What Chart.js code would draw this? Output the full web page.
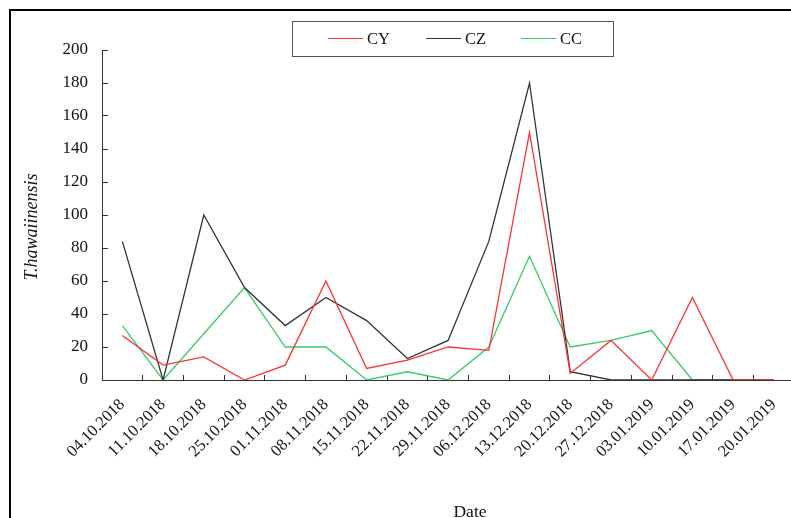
<!DOCTYPE html>
<html>
<head>
<meta charset="utf-8">
<script src="https://cdn.jsdelivr.net/npm/chart.js@4/dist/chart.umd.min.js"></script>
<style>
  html, body { margin: 0; padding: 0; background: #fff; overflow: hidden; width: 791px; height: 518px; }
  #wrap { position: relative; width: 791px; height: 518px; overflow: hidden; }
  #c { position: absolute; left: 0; top: 0; }
  #frame { position: absolute; left: 9px; top: 9px; width: 900px; height: 700px; border-left: 2.5px solid #000; border-top: 2.5px solid #000; box-sizing: border-box; }
  #legend { position: absolute; left: 292px; top: 21px; width: 322px; height: 36px; border: 1px solid #555; box-sizing: border-box; font-family: "Liberation Serif", "Times New Roman", serif; font-size: 16.5px; color: #111; }
  .sw { position: absolute; top: 16px; width: 35px; height: 0; border-top: 1.2px solid; }
  .lb { position: absolute; top: 7px; line-height: 20px; }
</style>
</head>
<body>
<div id="wrap">
  <canvas id="c" width="808" height="518"></canvas>
  <div id="frame"></div>
  <div id="legend"></div>
</div>
<script>
const categories = ["04.10.2018","11.10.2018","18.10.2018","25.10.2018","01.11.2018","08.11.2018","15.11.2018","22.11.2018","29.11.2018","06.12.2018","13.12.2018","20.12.2018","27.12.2018","03.01.2019","10.01.2019","17.01.2019","20.01.2019"];
const cyValues = [27, 9, 14, 0, 9, 60, 7, 12, 20, 18, 150, 4, 24, 0, 50, 0, 0];
const czValues = [84, 0, 100, 56, 33, 50, 36, 13, 24, 84, 180, 5, 0, 0, 0, 0, 0];
const ccValues = [33, 0, 28, 56, 20, 20, 0, 5, 0, 20, 75, 20, 24, 30, 0, 0, 0];
const seriesNames = ["CY", "CZ", "CC"];
const seriesColors = ["#ff3030", "#333333", "#33cc66"];
const yTickValues = [0, 20, 40, 60, 80, 100, 120, 140, 160, 180, 200];
const xTitle = "Date";
const yTitle = "T.hawaiinensis";

// HTML legend
const legendEl = document.getElementById('legend');
const swLeft = [35, 133, 228];
seriesNames.forEach((n, i) => {
  const s = document.createElement('div');
  s.className = 'sw';
  s.style.left = swLeft[i] + 'px';
  s.style.borderTopColor = seriesColors[i];
  legendEl.appendChild(s);
  const t = document.createElement('div');
  t.className = 'lb';
  t.style.left = (swLeft[i] + 39) + 'px';
  t.textContent = n;
  legendEl.appendChild(t);
});

const axisTitles = {
  id: 'axisTitles',
  afterDraw(chart) {
    const ctx = chart.ctx;
    ctx.save();
    ctx.fillStyle = '#111';
    ctx.font = 'italic 18px "Liberation Serif"';
    ctx.textAlign = 'center';
    ctx.textBaseline = 'middle';
    ctx.translate(32, 227);
    ctx.rotate(-Math.PI / 2);
    ctx.fillText(yTitle, 0, 0);
    ctx.restore();
    ctx.save();
    ctx.fillStyle = '#111';
    ctx.font = '17.5px "Liberation Serif"';
    ctx.textAlign = 'center';
    ctx.textBaseline = 'alphabetic';
    ctx.fillText(xTitle, 470, 517);
    ctx.restore();
  }
};

const values = [cyValues, czValues, ccValues];
new Chart(document.getElementById('c'), {
  type: 'line',
  data: {
    labels: categories,
    datasets: seriesNames.map((n, i) => ({
      label: n,
      data: values[i],
      borderColor: seriesColors[i],
      backgroundColor: seriesColors[i],
      borderWidth: 1.3,
      pointRadius: 0,
      tension: 0,
      fill: false
    }))
  },
  options: {
    responsive: false,
    animation: false,
    layout: { autoPadding: false, padding: { top: 50, right: 6, left: 0, bottom: 0 } },
    plugins: { legend: { display: false }, tooltip: { enabled: false } },
    scales: {
      x: {
        type: 'category',
        offset: true,
        afterFit: (s) => { s.height = 138; },
        grid: { display: true, offset: true, drawOnChartArea: false, drawTicks: true, tickLength: -5, color: '#333', lineWidth: 1 },
        border: { display: true, color: '#333', width: 1 },
        ticks: { autoSkip: false, maxRotation: 45, minRotation: 45, padding: 20, color: '#111', font: { family: 'Liberation Serif', size: 16.5 } }
      },
      y: {
        min: 0, max: 200,
        afterFit: (s) => { s.width = 102; },
        afterBuildTicks: (s) => { s.ticks = yTickValues.map(v => ({ value: v })); },
        grid: { display: true, drawOnChartArea: false, drawTicks: true, tickLength: -6, color: '#333', lineWidth: 1 },
        border: { display: true, color: '#333', width: 1 },
        ticks: { padding: 20, color: '#111', font: { family: 'Liberation Serif', size: 17 } }
      }
    }
  },
  plugins: [axisTitles]
});
</script>
</body>
</html>
